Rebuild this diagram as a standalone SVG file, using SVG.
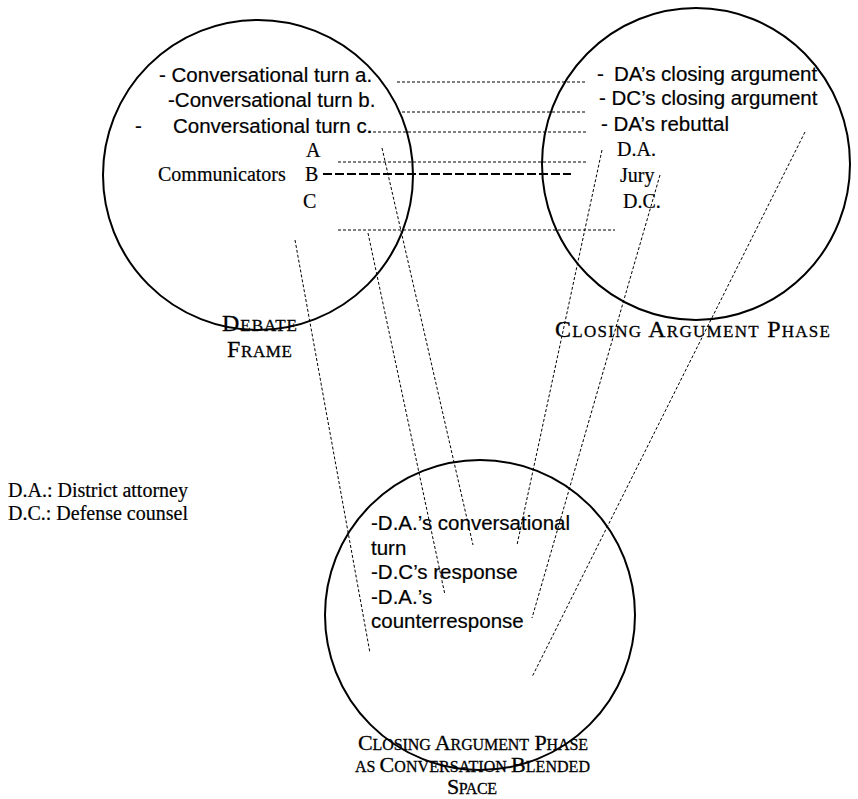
<svg xmlns="http://www.w3.org/2000/svg" width="858" height="799" viewBox="0 0 858 799">
<style>
.circle{fill:none;stroke:#000;stroke-width:2}
.sans{font-family:"Liberation Sans",Arial,sans-serif;font-size:20.5px;fill:#000;stroke:#000;stroke-width:0.2}
.serif{font-family:"Liberation Serif","Times New Roman",serif;font-size:20px;fill:#000;stroke:#000;stroke-width:0.2}
.sc{font-family:"Liberation Serif","Times New Roman",serif;fill:#000;stroke:#000;stroke-width:0.3}
.map{fill:none;stroke:#000;stroke-width:1;stroke-dasharray:3 2}
.mapb{fill:none;stroke:#000;stroke-width:2;stroke-dasharray:9 3}
</style>
<rect width="858" height="799" fill="#fff"/>

<g id="debate-frame">
  <circle class="circle" cx="258" cy="175" r="155"/>
  <text class="sans" x="159" y="82">- Conversational turn a.</text>
  <text class="sans" x="168" y="107">-Conversational turn b.</text>
  <text class="sans" x="135" y="133">-</text>
  <text class="sans" x="173" y="133">Conversational turn c.</text>
  <text class="serif" x="306" y="157">A</text>
  <text class="serif" x="158" y="181">Communicators</text>
  <text class="serif" x="305" y="181">B</text>
  <text class="serif" x="303" y="208">C</text>
  <text class="sc" x="259.5" y="331" text-anchor="middle" textLength="75" lengthAdjust="spacing"><tspan font-size="24">D</tspan><tspan font-size="17">EBATE</tspan></text>
  <text class="sc" x="259.5" y="357" text-anchor="middle" textLength="65" lengthAdjust="spacing"><tspan font-size="24">F</tspan><tspan font-size="17">RAME</tspan></text>
</g>

<g id="closing-argument-phase">
  <ellipse class="circle" cx="696" cy="164" rx="154" ry="156"/>
  <text class="sans" y="81"><tspan x="597">-</tspan><tspan x="614">DA’s closing argument</tspan></text>
  <text class="sans" x="599" y="105">- DC’s closing argument</text>
  <text class="sans" x="601" y="131">- DA’s rebuttal</text>
  <text class="serif" x="617" y="156" font-size="19">D.A.</text>
  <text class="serif" x="620" y="182" font-size="19">Jury</text>
  <text class="serif" x="623" y="208" font-size="23">D.C.</text>
  <text class="sc" x="555" y="337" textLength="275" lengthAdjust="spacing"><tspan font-size="24">C</tspan><tspan font-size="17">LOSING</tspan><tspan font-size="24"> A</tspan><tspan font-size="17">RGUMENT</tspan><tspan font-size="24"> P</tspan><tspan font-size="17">HASE</tspan></text>
</g>

<g id="blended-space">
  <circle class="circle" cx="480" cy="615" r="155"/>
  <text class="sans" x="371" y="530">-D.A.’s conversational</text>
  <text class="sans" x="371" y="555">turn</text>
  <text class="sans" x="371" y="579">-D.C’s response</text>
  <text class="sans" x="371" y="604">-D.A.’s</text>
  <text class="sans" x="371" y="628">counterresponse</text>
  <text class="sc" x="358" y="750" textLength="230" lengthAdjust="spacing"><tspan font-size="22">C</tspan><tspan font-size="16">LOSING</tspan><tspan font-size="22"> A</tspan><tspan font-size="16">RGUMENT</tspan><tspan font-size="22"> P</tspan><tspan font-size="16">HASE</tspan></text>
  <text class="sc" x="355" y="772" textLength="235" lengthAdjust="spacing"><tspan font-size="16">AS </tspan><tspan font-size="22">C</tspan><tspan font-size="16">ONVERSATION </tspan><tspan font-size="22">B</tspan><tspan font-size="16">LENDED</tspan></text>
  <text class="sc" x="447" y="794" textLength="50" lengthAdjust="spacing"><tspan font-size="22">S</tspan><tspan font-size="16">PACE</tspan></text>
</g>

<g id="legend">
  <text class="serif" x="8" y="497">D.A.: District attorney</text>
  <text class="serif" x="8" y="520">D.C.: Defense counsel</text>
</g>

<g id="connectors">
  <line class="map" x1="397" y1="82" x2="587" y2="82"/>
  <line class="map" x1="402" y1="112" x2="587" y2="112"/>
  <line class="map" x1="368" y1="132" x2="586" y2="132"/>
  <line class="map" x1="338" y1="162" x2="587" y2="162"/>
  <line class="mapb" x1="323" y1="174" x2="571" y2="174"/>
  <line class="map" x1="338" y1="230" x2="615" y2="230"/>
  <line class="map" x1="382" y1="148" x2="473" y2="545"/>
  <line class="map" x1="368" y1="233" x2="445" y2="595"/>
  <line class="map" x1="295" y1="240" x2="370" y2="653"/>
  <line class="map" x1="602" y1="150" x2="517" y2="545"/>
  <line class="map" x1="660" y1="175" x2="532" y2="618"/>
  <line class="map" x1="805" y1="132" x2="532" y2="677"/>
</g>
</svg>
